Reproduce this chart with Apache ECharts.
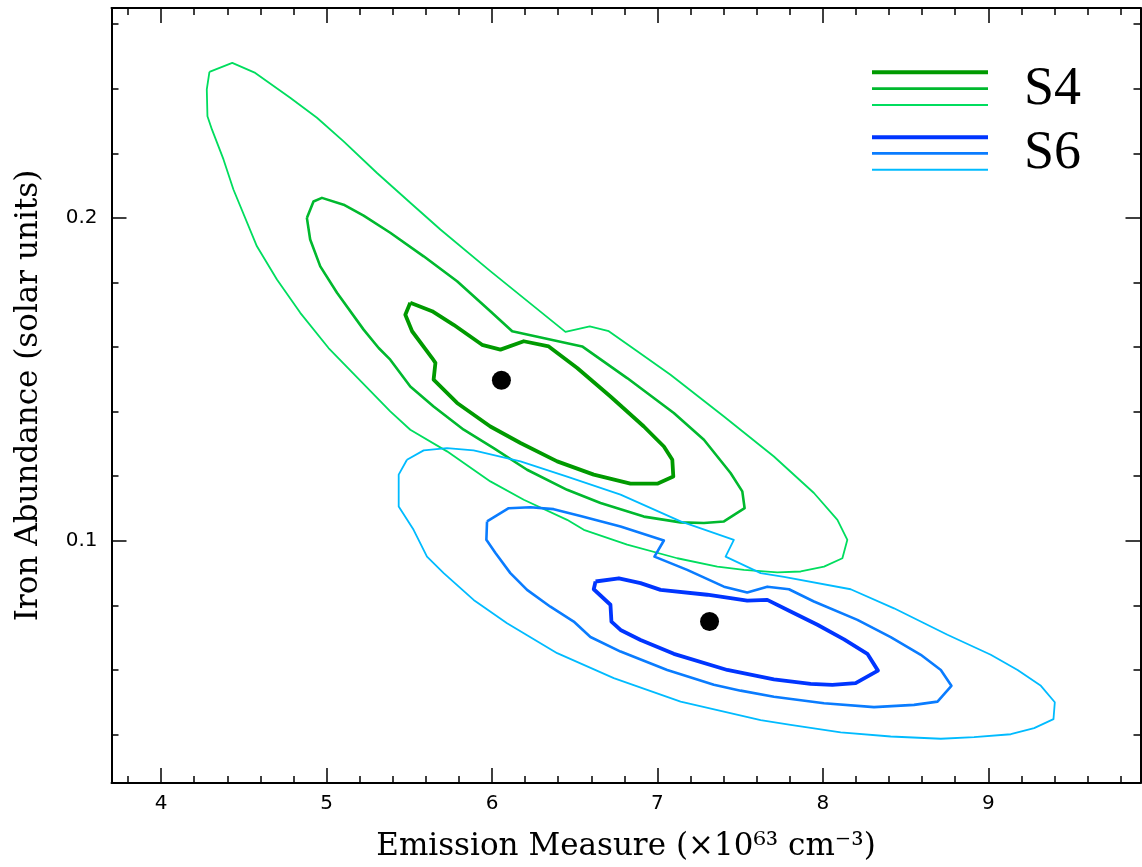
<!DOCTYPE html>
<html>
<head>
<meta charset="utf-8">
<script src="https://cdn.jsdelivr.net/npm/echarts@6/dist/echarts.min.js"></script>
<style>
html,body{margin:0;padding:0;background:#fff;}
#chart{width:1142px;height:867px;}
</style>
</head>
<body>
<div id="chart"></div>
<script>
// ---- tick values ----
const xMajorTicks = [4, 5, 6, 7, 8, 9];
const xMinorTicks = [3.8, 4.2, 4.4, 4.6, 4.8, 5.2, 5.4, 5.6, 5.8, 6.2, 6.4, 6.6, 6.8, 7.2, 7.4, 7.6, 7.8, 8.2, 8.4, 8.6, 8.8, 9.2, 9.4, 9.6, 9.8];
const yMajorTicks = [0.1, 0.2];
const yMinorTicks = [0.04, 0.06, 0.08, 0.12, 0.14, 0.16, 0.18, 0.22, 0.24, 0.26];

// ---- best fit points ----
const s4Best = [[6.057, 0.1497]];
const s6Best = [[7.315, 0.0750]];

// ---- S4 contours (emission measure, iron abundance) ----
const s4Level1 = [
  [5.506,0.1737],[5.638,0.1711],[5.768,0.1669],[5.940,0.1607],[6.051,0.1592],[6.192,0.1618],
  [6.343,0.1602],[6.515,0.1535],[6.716,0.1447],[6.918,0.1354],[7.039,0.1292],[7.090,0.1251],
  [7.096,0.1199],[6.999,0.1177],[6.837,0.1177],[6.615,0.1205],[6.394,0.1246],[6.172,0.1303],
  [5.990,0.1354],[5.789,0.1427],[5.647,0.1499],[5.658,0.1551],[5.638,0.1566],[5.517,0.1649],
  [5.476,0.1700],[5.506,0.1737]
];
const s4Level2 = [
  [4.881,0.2000],[4.921,0.2051],[4.972,0.2062],[5.103,0.2041],[5.224,0.2007],[5.385,0.1954],
  [5.587,0.1881],[5.789,0.1804],[5.990,0.1711],[6.122,0.1649],[6.545,0.1602],[6.817,0.1504],
  [7.099,0.1396],[7.281,0.1313],[7.442,0.1210],[7.513,0.1153],[7.527,0.1101],[7.402,0.1060],
  [7.281,0.1055],[7.140,0.1057],[6.918,0.1075],[6.656,0.1117],[6.454,0.1158],[6.212,0.1220],
  [6.010,0.1287],[5.829,0.1344],[5.647,0.1416],[5.506,0.1478],[5.385,0.1561],[5.315,0.1597],
  [5.224,0.1654],[5.063,0.1768],[4.962,0.1850],[4.901,0.1933],[4.881,0.2000]
];
const s4Level3 = [
  [4.292,0.2452],[4.430,0.2480],[4.569,0.2449],[4.780,0.2372],[4.942,0.2310],[5.103,0.2237],
  [5.305,0.2139],[5.506,0.2047],[5.688,0.1964],[5.990,0.1835],[6.444,0.1647],[6.591,0.1664],
  [6.706,0.1649],[6.878,0.1587],[7.079,0.1514],[7.402,0.1385],[7.704,0.1261],[7.946,0.1148],
  [8.088,0.1065],[8.148,0.1003],[8.118,0.0946],[8.007,0.0920],[7.866,0.0905],[7.725,0.0902],
  [7.523,0.0910],[7.362,0.0920],[7.120,0.0946],[6.817,0.0988],[6.555,0.1034],[6.454,0.1065],
  [6.192,0.1127],[5.990,0.1184],[5.728,0.1277],[5.506,0.1344],[5.385,0.1401],[5.012,0.1597],
  [4.841,0.1706],[4.700,0.1809],[4.579,0.1912],[4.437,0.2088],[4.377,0.2181],[4.307,0.2274],
  [4.280,0.2315],[4.276,0.2398],[4.292,0.2452]
];

// ---- S6 contours ----
const s6Level1 = [
  [6.626,0.0874],[6.767,0.0884],[6.898,0.0869],[7.019,0.0848],[7.301,0.0833],[7.543,0.0815],
  [7.664,0.0817],[7.805,0.0781],[7.967,0.0740],[8.128,0.0695],[8.269,0.0650],[8.333,0.0598],
  [8.198,0.0559],[8.057,0.0554],[7.926,0.0557],[7.704,0.0571],[7.422,0.0600],[7.099,0.0650],
  [6.898,0.0693],[6.777,0.0724],[6.722,0.0750],[6.716,0.0802],[6.615,0.0850],[6.626,0.0874]
];
const s6Level2 = [
  [5.970,0.1060],[6.101,0.1101],[6.232,0.1104],[6.373,0.1098],[6.535,0.1077],[6.777,0.1044],
  [7.039,0.1001],[6.982,0.0951],[7.180,0.0910],[7.402,0.0858],[7.543,0.0840],[7.664,0.0858],
  [7.795,0.0850],[7.946,0.0812],[8.209,0.0755],[8.410,0.0702],[8.592,0.0647],[8.713,0.0600],
  [8.777,0.0551],[8.693,0.0502],[8.551,0.0492],[8.309,0.0485],[8.007,0.0497],[7.704,0.0517],
  [7.503,0.0536],[7.341,0.0554],[7.059,0.0600],[6.777,0.0657],[6.595,0.0702],[6.494,0.0750],
  [6.353,0.0796],[6.212,0.0848],[6.111,0.0900],[6.021,0.0962],[5.966,0.1003],[5.970,0.1060]
];
const s6Level3 = [
  [5.486,0.1251],[5.587,0.1280],[5.728,0.1287],[5.889,0.1280],[6.172,0.1246],[6.454,0.1199],
  [6.777,0.1143],[7.140,0.1060],[7.462,0.1003],[7.412,0.0951],[7.624,0.0900],[7.765,0.0888],
  [8.168,0.0850],[8.430,0.0791],[8.753,0.0709],[9.015,0.0647],[9.177,0.0600],[9.318,0.0551],
  [9.402,0.0500],[9.394,0.0448],[9.277,0.0420],[9.136,0.0401],[8.914,0.0392],[8.713,0.0387],
  [8.410,0.0394],[8.108,0.0407],[7.805,0.0430],[7.624,0.0445],[7.140,0.0502],[6.736,0.0575],
  [6.394,0.0652],[6.091,0.0745],[5.889,0.0817],[5.708,0.0900],[5.607,0.0951],[5.526,0.1034],
  [5.436,0.1106],[5.436,0.1205],[5.486,0.1251]
];

const legendNames = ['S4', 'S6'];

const S4C = ['#009a00', '#00b92e', '#00dd5e'];
const S6C = ['#0035ff', '#0a7cff', '#00bbff'];
const W = [3.8, 2.6, 1.8];

const X_MIN = 3.7, X_MAX = 9.92, Y_MIN = 0.025, Y_MAX = 0.265;
const tickFont = 'DejaVu Sans';
const titleFont = 'DejaVu Serif';

function xAxisDef(pos, ticks, len, labels, line, name) {
  return {
    type: 'value', position: pos, min: X_MIN, max: X_MAX, gridIndex: 0,
    axisLine: { show: line, lineStyle: { color: '#000', width: 2 } },
    axisTick: { show: true, inside: true, length: len, customValues: ticks, lineStyle: { color: '#000', width: 1.5 } },
    axisLabel: labels ? { show: true, customValues: ticks, margin: 11, color: '#000', fontSize: 20, fontFamily: tickFont } : { show: false },
    splitLine: { show: false },
    name: name || '', nameLocation: 'middle', nameGap: 48,
    nameTextStyle: { fontFamily: titleFont, fontSize: 31, color: '#000' }
  };
}
function yAxisDef(pos, ticks, len, labels, line, name) {
  return {
    type: 'value', position: pos, min: Y_MIN, max: Y_MAX, gridIndex: 0,
    axisLine: { show: line, lineStyle: { color: '#000', width: 2 } },
    axisTick: { show: true, inside: true, length: len, customValues: ticks, lineStyle: { color: '#000', width: 1.5 } },
    axisLabel: labels ? { show: true, customValues: ticks, margin: 14, color: '#000', fontSize: 20, fontFamily: tickFont } : { show: false },
    splitLine: { show: false },
    name: name || '', nameLocation: 'middle', nameGap: 67,
    nameTextStyle: { fontFamily: titleFont, fontSize: 31, color: '#000' }
  };
}

function contour(data, color, width) {
  return {
    type: 'line', data: data, xAxisIndex: 0, yAxisIndex: 0,
    showSymbol: false, symbol: 'none', smooth: false, silent: true,
    lineStyle: { color: color, width: width, join: 'round' }
  };
}

const series = [
  contour(s4Level3, S4C[2], W[2]),
  contour(s4Level2, S4C[1], W[1]),
  contour(s4Level1, S4C[0], W[0]),
  contour(s6Level3, S6C[2], W[2]),
  contour(s6Level2, S6C[1], W[1]),
  contour(s6Level1, S6C[0], W[0]),
  { type: 'scatter', data: s4Best, symbolSize: 19, itemStyle: { color: '#000', opacity: 1 }, xAxisIndex: 0, yAxisIndex: 0, z: 5 },
  { type: 'scatter', data: s6Best, symbolSize: 19, itemStyle: { color: '#000', opacity: 1 }, xAxisIndex: 0, yAxisIndex: 0, z: 5 }
];

// legend drawn as graphics
const legX1 = 872, legX2 = 988, legTextX = 1024;
const legRows = [[72.3, 88.7, 105], [137.3, 153.3, 169.7]];
const legCols = [S4C, S6C];
const legW = [4, 2.7, 2];
const graphic = [];
legRows.forEach(function (rows, g) {
  rows.forEach(function (yy, i) {
    graphic.push({ type: 'line', shape: { x1: legX1, y1: yy, x2: legX2, y2: yy },
      style: { stroke: legCols[g][i], lineWidth: legW[i] }, z: 10 });
  });
  graphic.push({ type: 'text', x: legTextX, y: rows[1] + 1,
    style: { text: legendNames[g], fontFamily: 'Liberation Serif', fontSize: 54, fill: '#000', verticalAlign: 'middle', align: 'left' }, z: 10 });
});

const chart = echarts.init(document.getElementById('chart'), null, { renderer: 'canvas' });
chart.setOption({
  animation: false,
  backgroundColor: '#fff',
  grid: { left: 111.5, right: 1.5, top: 8, bottom: 84, containLabel: false },
  xAxis: [
    xAxisDef('bottom', xMajorTicks, 15, true, true, 'Emission Measure (\u00d710\u2076\u00b3 cm\u207b\u00b3)'),
    xAxisDef('bottom', xMinorTicks, 7, false, false),
    xAxisDef('top', xMajorTicks, 15, false, true),
    xAxisDef('top', xMinorTicks, 7, false, false)
  ],
  yAxis: [
    yAxisDef('left', yMajorTicks, 15, true, true, 'Iron Abundance (solar units)'),
    yAxisDef('left', yMinorTicks, 7, false, false),
    yAxisDef('right', yMajorTicks, 15, false, true),
    yAxisDef('right', yMinorTicks, 7, false, false)
  ],
  series: series,
  graphic: graphic
});
</script>
</body>
</html>
